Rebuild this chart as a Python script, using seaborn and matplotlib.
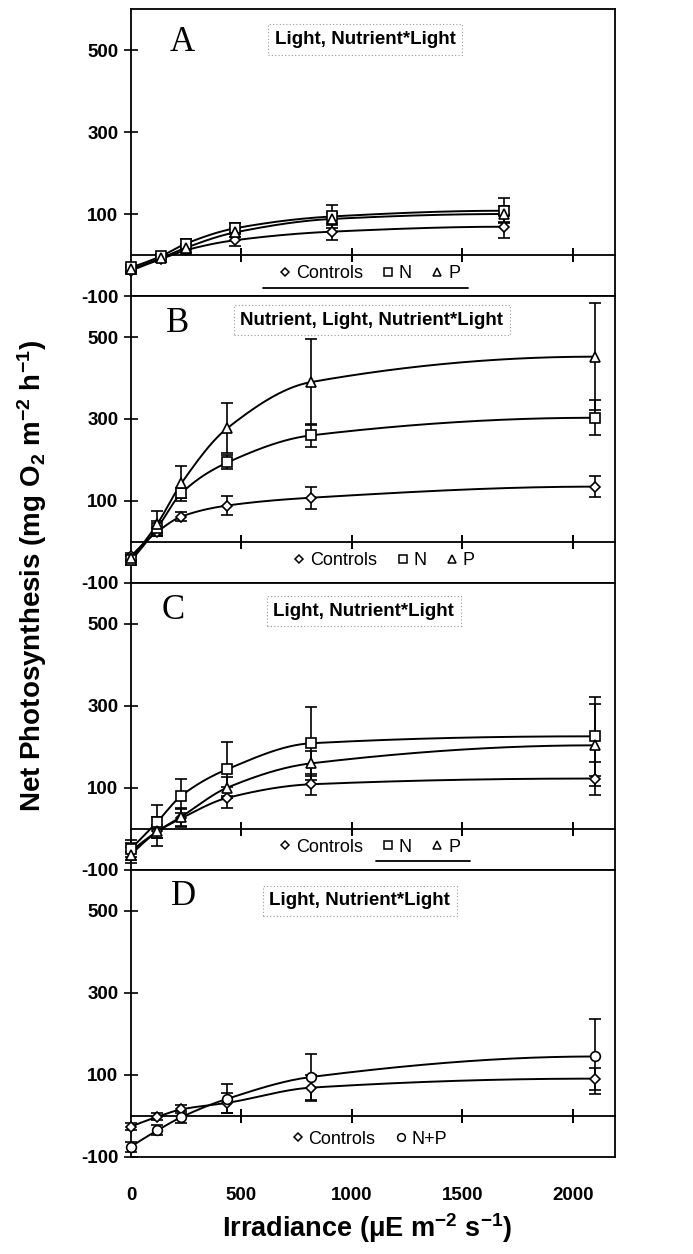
import numpy as np
import matplotlib
matplotlib.use("Agg")
import matplotlib.pyplot as plt
from matplotlib.lines import Line2D
import seaborn as sns

# ---------------- data ----------------
irr_A = [0, 135, 250, 470, 910, 1690]
irr_BCD = [0, 120, 228, 437, 815, 2100]

A_controls = [-38, -10, 12, 36, 57, 69]
A_controls_err = [8, 8, 10, 15, 20, 28]
A_N = [-30, -3, 28, 65, 94, 108]
A_N_err = [6, 6, 10, 12, 28, 30]
A_P = [-35, -8, 18, 55, 88, 100]
A_P_err = [6, 8, 10, 12, 15, 20]

B_controls = [-35, 25, 62, 89, 108, 135]
B_controls_err = [8, 10, 10, 22, 27, 25]
B_N = [-45, 35, 119, 194, 260, 303]
B_N_err = [10, 15, 12, 17, 28, 43]
B_P = [-40, 45, 143, 278, 390, 452]
B_P_err = [8, 30, 43, 62, 105, 130]

C_controls = [-55, -6, 26, 76, 109, 123]
C_controls_err = [20, 36, 22, 26, 25, 40]
C_N = [-48, 18, 81, 146, 209, 226]
C_N_err = [20, 40, 42, 65, 89, 96]
C_P = [-63, -6, 30, 101, 160, 204]
C_P_err = [20, 15, 22, 25, 30, 100]

D_controls = [-26, -2, 16, 32, 69, 91]
D_controls_err = [8, 8, 10, 25, 32, 27]
D_NP = [-75, -35, -3, 42, 95, 145]
D_NP_err = [12, 12, 15, 35, 55, 91]

panel_letters = ["A", "B", "C", "D"]
panel_titles = ["Light, Nutrient*Light", "Nutrient, Light, Nutrient*Light",
                "Light, Nutrient*Light", "Light, Nutrient*Light"]
yticks = [-100, 100, 300, 500]
xticks = [0, 500, 1000, 1500, 2000]

# ---------------- style ----------------
sns.set_theme(style="white")
plt.rcParams["font.family"] = ["Liberation Sans", "DejaVu Sans"]
plt.rcParams["mathtext.fontset"] = "custom"
plt.rcParams["mathtext.rm"] = "Liberation Sans"
plt.rcParams["mathtext.bf"] = "Liberation Sans:bold"
plt.rcParams["mathtext.default"] = "bf"
for key in ["text.color", "axes.labelcolor", "xtick.color", "ytick.color", "axes.edgecolor"]:
    plt.rcParams[key] = "black"


def pchip(x, y, xn):
    x = np.asarray(x, float); y = np.asarray(y, float)
    h = np.diff(x); d = np.diff(y) / h
    n = len(x); m = np.zeros(n)
    for k in range(1, n - 1):
        if d[k - 1] * d[k] > 0:
            w1 = 2 * h[k] + h[k - 1]; w2 = h[k] + 2 * h[k - 1]
            m[k] = (w1 + w2) / (w1 / d[k - 1] + w2 / d[k])
    def endslope(h0, h1, d0, d1):
        s = ((2 * h0 + h1) * d0 - h0 * d1) / (h0 + h1)
        if np.sign(s) != np.sign(d0):
            s = 0.0
        elif np.sign(d0) != np.sign(d1) and abs(s) > abs(3 * d0):
            s = 3 * d0
        return s
    m[0] = endslope(h[0], h[1], d[0], d[1])
    m[-1] = endslope(h[-1], h[-2], d[-1], d[-2])
    idx = np.clip(np.searchsorted(x, xn) - 1, 0, n - 2)
    t = (xn - x[idx]) / h[idx]
    h00 = 2 * t**3 - 3 * t**2 + 1; h10 = t**3 - 2 * t**2 + t
    h01 = -2 * t**3 + 3 * t**2; h11 = t**3 - t**2
    return h00 * y[idx] + h10 * h[idx] * m[idx] + h01 * y[idx + 1] + h11 * h[idx] * m[idx + 1]


fig = plt.figure(figsize=(6.93, 12.54), dpi=100)
axes = fig.subplots(4, 1, sharex=True)
fig.subplots_adjust(left=0.189, right=0.887, top=0.9928, bottom=0.0774, hspace=0)

markers = {"Controls": "D", "N": "s", "P": "^", "N+P": "o"}
msizes = {"Controls": 5.5, "N": 6.5, "P": 7, "N+P": 7}

panels = [
    (irr_A, [("Controls", A_controls, A_controls_err), ("N", A_N, A_N_err), ("P", A_P, A_P_err)]),
    (irr_BCD, [("Controls", B_controls, B_controls_err), ("N", B_N, B_N_err), ("P", B_P, B_P_err)]),
    (irr_BCD, [("Controls", C_controls, C_controls_err), ("N", C_N, C_N_err), ("P", C_P, C_P_err)]),
    (irr_BCD, [("Controls", D_controls, D_controls_err), ("N+P", D_NP, D_NP_err)]),
]

letter_pos = [(0.105, 0.885), (0.096, 0.905), (0.088, 0.903), (0.108, 0.907)]
title_pos = [(0.484, 0.894), (0.498, 0.916), (0.481, 0.901), (0.473, 0.893)]
legend_pos = [(0.49, 0.077), (0.52, 0.077), (0.49, 0.08), (0.49, 0.062)]

for i, (ax, (xs, series)) in enumerate(zip(axes, panels)):
    for name, ys, err in series:
        xn = np.linspace(xs[0], xs[-1], 300)
        sns.lineplot(x=xn, y=pchip(xs, ys, xn), ax=ax, color="black", lw=1.4,
                     zorder=2, legend=False)
        ax.errorbar(xs, ys, yerr=err, fmt="none", ecolor="black", elinewidth=1.2,
                    capsize=4, capthick=1.2, zorder=3, clip_on=False)
        ax.plot(xs, ys, ls="none", marker=markers[name], ms=msizes[name],
                mfc="white", mec="black", mew=1.2, zorder=4, clip_on=False)

    ax.set_xlim(0, 2190)
    ax.set_ylim(-100, 600)
    ax.set_yticks(yticks)
    ax.set_yticklabels([str(v) for v in yticks], fontsize=13.5, fontweight="bold")
    ax.tick_params(axis="y", direction="inout", length=10, width=1.2, pad=4, color="black",
                   labelcolor="black", left=True)
    ax.tick_params(axis="x", length=0, pad=22, labelcolor="black")
    ax.set_xticks(xticks)
    for sp in ax.spines.values():
        sp.set_visible(True); sp.set_color("black"); sp.set_linewidth(1.3)
    ax.set_facecolor("white")

    # zero line with tick marks
    sec = ax.secondary_xaxis(1 / 7)
    sec.set_xticks(xticks[1:])
    sec.set_xticklabels([])
    sec.tick_params(axis="x", direction="inout", length=10, width=1.2, color="black",
                    bottom=True, top=True)
    for sp in sec.spines.values():
        sp.set_color("black"); sp.set_linewidth(1.3)

    ax.text(*letter_pos[i], panel_letters[i], transform=ax.transAxes, ha="center",
            va="center", fontsize=25, color="black", family=["Liberation Serif", "DejaVu Serif"])
    ax.text(*title_pos[i], panel_titles[i], transform=ax.transAxes, ha="center",
            va="center", fontsize=13.5, fontweight="bold", color="black",
            bbox=dict(boxstyle="square,pad=0.35", fc="white", ec="0.6",
                      ls=(0, (1, 2)), lw=0.8))

    handles = [Line2D([], [], ls="none", marker=markers[n], ms=msizes[n] * 0.8,
                      mfc="white", mec="black", mew=1.1) for n, _, _ in series]
    leg = ax.legend(handles, [n for n, _, _ in series], loc="center",
                    bbox_to_anchor=legend_pos[i], ncol=len(series), frameon=False,
                    fontsize=13, handletextpad=0.1, columnspacing=0.9, handlelength=1.0,
                    borderaxespad=0, labelcolor="black")

# underline annotations (from the original figure)
axes[0].plot([0.273, 0.696], [0.028, 0.028], transform=axes[0].transAxes, color="black", lw=1.3)
axes[2].plot([0.506, 0.700], [0.031, 0.031], transform=axes[2].transAxes, color="black", lw=1.3)

for ax in axes[:-1]:
    ax.tick_params(axis="x", labelbottom=False)
axes[-1].set_xticklabels([str(v) for v in xticks], fontsize=13.5, fontweight="bold")

fig.text(0.5296, 0.0207, "Irradiance (μE m$^{-2}$ s$^{-1}$)", ha="center", va="center",
         fontsize=19.5, fontweight="bold", color="black")
fig.text(0.046, 0.5407, "Net Photosynthesis (mg O$_2$ m$^{-2}$ h$^{-1}$)", ha="center",
         va="center", rotation=90, fontsize=20, fontweight="bold", color="black")

fig.savefig("out.png", dpi=100, facecolor="white")
